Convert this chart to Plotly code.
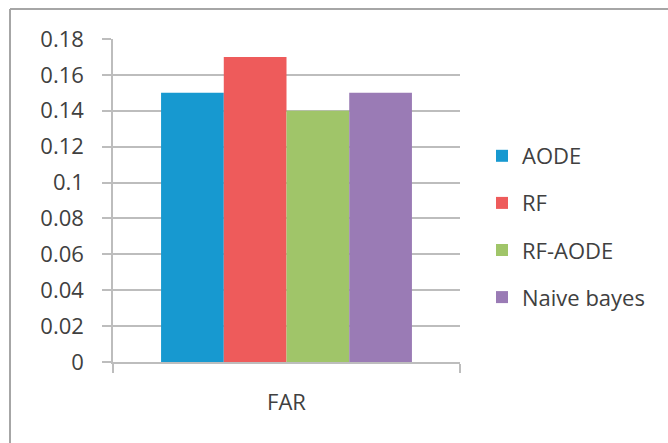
import plotly.graph_objects as go

# Chart data
categories = ["FAR"]
series_names = ["AODE", "RF", "RF-AODE", "Naive bayes"]
series_values = [[0.15], [0.17], [0.14], [0.15]]
series_colors = ["#1799D0", "#EE5B5B", "#A0C569", "#9A7BB5"]
y_ticks = [0, 0.02, 0.04, 0.06, 0.08, 0.1, 0.12, 0.14, 0.16, 0.18]
y_tick_text = ["0", "0.02", "0.04", "0.06", "0.08", "0.1", "0.12", "0.14", "0.16", "0.18"]

W, H = 668, 443
ML, MR, MT, MB = 113, 208, 39, 81
PW, PH = W - ML - MR, H - MT - MB

FONT = "'Open Sans', Lato, sans-serif"
TEXT = "#404040"
GRID = "#BDBDBD"

fig = go.Figure()
for name, vals, col in zip(series_names, series_values, series_colors):
    fig.add_trace(go.Bar(
        x=categories, y=vals, name=name, legendgroup=name,
        marker=dict(color=col, line=dict(width=0)),
    ))

def px_x(x):
    return (x - ML) / PW

def px_y(y):
    return (H - MB - y) / PH

# Outer chart frame: top and left edges
frame = dict(color="#A6A6A6", width=2)
fig.add_shape(type="line", xref="paper", yref="paper",
              x0=px_x(10), x1=px_x(W), y0=px_y(9), y1=px_y(9), line=frame)
fig.add_shape(type="line", xref="paper", yref="paper",
              x0=px_x(10), x1=px_x(10), y0=px_y(9), y1=px_y(H), line=frame)

fig.update_layout(
    width=W, height=H,
    margin=dict(l=ML, r=MR, t=MT, b=MB),
    paper_bgcolor="white", plot_bgcolor="white",
    barmode="group", bargap=0.277, bargroupgap=0,
    font=dict(family=FONT, size=22, color=TEXT),
    showlegend=True,
    legend=dict(x=px_x(482), xanchor="left", y=px_y(135), yanchor="top",
                font=dict(size=22, color=TEXT), tracegroupgap=15.5,
                bgcolor="rgba(0,0,0,0)"),
    xaxis=dict(
        showgrid=False, showline=True, linecolor=GRID, linewidth=1.5,
        ticks="outside", tickson="boundaries", ticklen=9, tickcolor=GRID, tickwidth=1.5,
        ticklabelstandoff=20, tickfont=dict(size=22, color=TEXT),
    ),
    yaxis=dict(
        range=[0, 0.18], tickvals=y_ticks, ticktext=y_tick_text,
        showgrid=True, gridcolor=GRID, gridwidth=1.5,
        showline=True, linecolor=GRID, linewidth=1.5,
        ticks="outside", ticklen=9, tickcolor=GRID, tickwidth=1.5,
        ticklabelstandoff=14, tickfont=dict(size=22, color=TEXT),
        zeroline=False,
    ),
)

fig.write_html("out.html")
